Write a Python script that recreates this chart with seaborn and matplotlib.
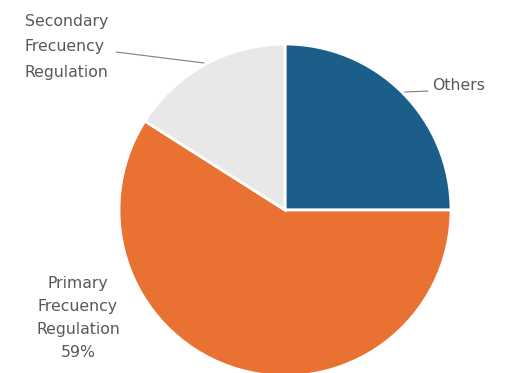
import matplotlib
matplotlib.use("Agg")
import matplotlib.pyplot as plt
import seaborn as sns

labels = ["Others", "Primary Frecuency Regulation", "Secondary Frecuency Regulation"]
shares = [25, 59, 16]
colors = ["#1B5E8A", "#E97132", "#E8E8E8"]

sns.set_theme(style="white")
plt.rcParams['font.family'] = ['DejaVu Sans']

fig = plt.figure(figsize=(5.10, 3.73), dpi=100)
ax = fig.add_axes([0, 0, 1, 1])

# pixel coords, y measured from bottom
cx, cy, r = 285, 373 - 210, 166
ax.pie(shares, colors=colors, startangle=90, counterclock=False,
       center=(cx, cy), radius=r, frame=True,
       wedgeprops=dict(edgecolor='white', linewidth=2))
ax.set_xlim(0, 510)
ax.set_ylim(0, 373)
ax.set_aspect('equal')
ax.axis('off')

txt = dict(color='#595959', fontsize=11.3)
ax.text(25, 373 - 47, "Secondary\nFrecuency\nRegulation", ha='left', va='center',
        linespacing=1.9, **txt)
ax.plot([116, 204], [373 - 52, 373 - 63], color='#7F7F7F', lw=0.8)

ax.text(432, 373 - 85, "Others", ha='left', va='center', **txt)
ax.plot([405, 428], [373 - 92, 373 - 91], color='#7F7F7F', lw=0.8)

ax.text(78, 373 - 318, "Primary\nFrecuency\nRegulation\n{}%".format(shares[1]),
        ha='center', va='center', linespacing=1.65, **txt)

fig.savefig("out.png", dpi=100)
